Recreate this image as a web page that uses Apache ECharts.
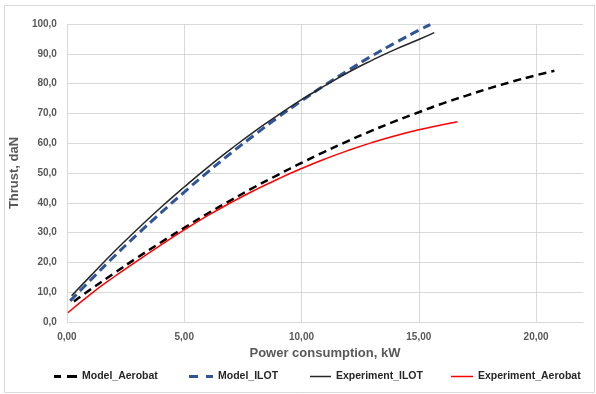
<!DOCTYPE html>
<html>
<head>
<meta charset="utf-8">
<script src="https://cdn.jsdelivr.net/npm/echarts@6/dist/echarts.min.js"></script>
<style>
html,body{margin:0;padding:0;background:#fff;}
#c{width:596px;height:394px;}
</style>
</head>
<body>
<div id="c"></div>
<script>
// Data (x: Power consumption kW, y: Thrust daN)
const modelAerobatX = [0.3, 1, 2, 3, 4, 5, 6, 7, 8, 9, 10, 11, 12, 13, 14, 15, 16, 17, 18, 19, 20, 20.78];
const modelAerobatY = [6.9, 10.9, 16.3, 21.6, 26.7, 31.6, 36.4, 40.9, 45.3, 49.4, 53.4, 57.2, 60.8, 64.2, 67.4, 70.4, 73.3, 75.9, 78.4, 80.7, 82.8, 84.3];

const modelIlotX = [0.14, 1, 2, 3, 4, 5, 6, 7, 8, 9, 10, 11, 12, 13, 14, 15, 15.49];
const modelIlotY = [7.1, 14.0, 21.9, 29.4, 36.6, 43.6, 50.3, 56.7, 62.8, 68.7, 74.2, 79.5, 84.5, 89.3, 93.7, 97.9, 99.8];

const expIlotX = [0.2, 1, 2, 3, 4, 5, 6, 7, 8, 9, 10, 11, 12, 13, 14, 15, 15.66];
const expIlotY = [8.8, 15.4, 23.5, 31.1, 38.4, 45.3, 51.9, 58.1, 64.0, 69.4, 74.6, 79.3, 83.8, 87.8, 91.5, 94.8, 97.1];

const expAerobatX = [0.04, 1, 2, 3, 4, 5, 6, 7, 8, 9, 10, 11, 12, 13, 14, 15, 16, 16.65];
const expAerobatY = [3.1, 9.3, 15.1, 20.5, 25.8, 30.9, 35.7, 40.1, 44.2, 48.0, 51.5, 54.7, 57.6, 60.2, 62.5, 64.5, 66.2, 67.2];

const seriesNames = ['Model_Aerobat', 'Model_ILOT', 'Experiment_ILOT', 'Experiment_Aerobat'];

function pairs(xs, ys) { return xs.map((x, i) => [x, ys[i]]); }

const chart = echarts.init(document.getElementById('c'));
const labelColor = '#595959';
const gridColor = '#d9d9d9';
const fontFam = 'Liberation Sans, Arial, sans-serif';

const legendStyle = {fontFamily: fontFam, fontSize: 10.5, fontWeight: 'bold', color: '#262626'};
function legendAt(name, left, icon, w, h) {
  return {
    data: [{name: name, icon: icon}], left: left, top: 371, itemWidth: w, itemHeight: h, itemGap: 0,
    textStyle: legendStyle, padding: 0
  };
}

chart.setOption({
  animation: false,
  backgroundColor: '#fff',
  graphic: [{
    type: 'rect', shape: {x: 4.5, y: 5.5, width: 590, height: 387},
    style: {fill: 'none', stroke: '#d9d9d9', lineWidth: 1}, silent: true, z: -1
  }],
  grid: {left: 55, right: 13, top: 24, bottom: 72, containLabel: false},
  legend: [
    legendAt(seriesNames[0], 54, 'path://M0,0h7v3h-7z M13,0h10v3h-10z', 23, 3),
    legendAt(seriesNames[1], 189, 'path://M0,0h9v3h-9z M17,0h7v3h-7z', 24, 3),
    legendAt(seriesNames[2], 310, 'rect', 21, 1.5),
    legendAt(seriesNames[3], 451, 'rect', 22, 1.5)
  ],
  xAxis: {
    type: 'value', min: 0, max: 22, interval: 5,
    name: 'Power consumption, kW', nameLocation: 'middle', nameGap: 25,
    nameTextStyle: {fontFamily: fontFam, fontSize: 13, fontWeight: 'bold', color: labelColor},
    axisLine: {show: true, lineStyle: {color: gridColor}},
    axisTick: {show: false},
    axisLabel: {
      margin: 10, showMaxLabel: false,
      fontFamily: fontFam, fontSize: 10, fontWeight: 'bold', color: labelColor,
      formatter: v => v.toFixed(2).replace('.', ',')
    },
    splitLine: {show: true, showMaxLine: false, lineStyle: {color: gridColor, width: 1}}
  },
  yAxis: {
    type: 'value', min: 0, max: 100, interval: 10,
    name: 'Thrust, daN', nameLocation: 'middle', nameGap: 31,
    nameTextStyle: {fontFamily: fontFam, fontSize: 13, fontWeight: 'bold', color: labelColor},
    axisLine: {show: false},
    axisTick: {show: false},
    axisLabel: {
      margin: 10,
      fontFamily: fontFam, fontSize: 10, fontWeight: 'bold', color: labelColor,
      formatter: v => v.toFixed(1).replace('.', ',')
    },
    splitLine: {show: true, lineStyle: {color: gridColor, width: 1}}
  },
  series: [
    {
      name: seriesNames[0], type: 'line', smooth: true, symbol: 'none', showSymbol: false,
      data: pairs(modelAerobatX, modelAerobatY),
      lineStyle: {color: '#000000', width: 2.5, type: [8, 5]},
      itemStyle: {color: '#000000'}, z: 3
    },
    {
      name: seriesNames[1], type: 'line', smooth: true, symbol: 'none', showSymbol: false,
      data: pairs(modelIlotX, modelIlotY),
      lineStyle: {color: '#2F5597', width: 3, type: [9, 5]},
      itemStyle: {color: '#2F5597'}, z: 2
    },
    {
      name: seriesNames[2], type: 'line', smooth: true, symbol: 'none', showSymbol: false,
      data: pairs(expIlotX, expIlotY),
      lineStyle: {color: '#262626', width: 1.5},
      itemStyle: {color: '#262626'}, z: 4
    },
    {
      name: seriesNames[3], type: 'line', smooth: true, symbol: 'none', showSymbol: false,
      data: pairs(expAerobatX, expAerobatY),
      lineStyle: {color: '#FF0000', width: 1.5},
      itemStyle: {color: '#FF0000'}, z: 4
    }
  ]
});
</script>
</body>
</html>
